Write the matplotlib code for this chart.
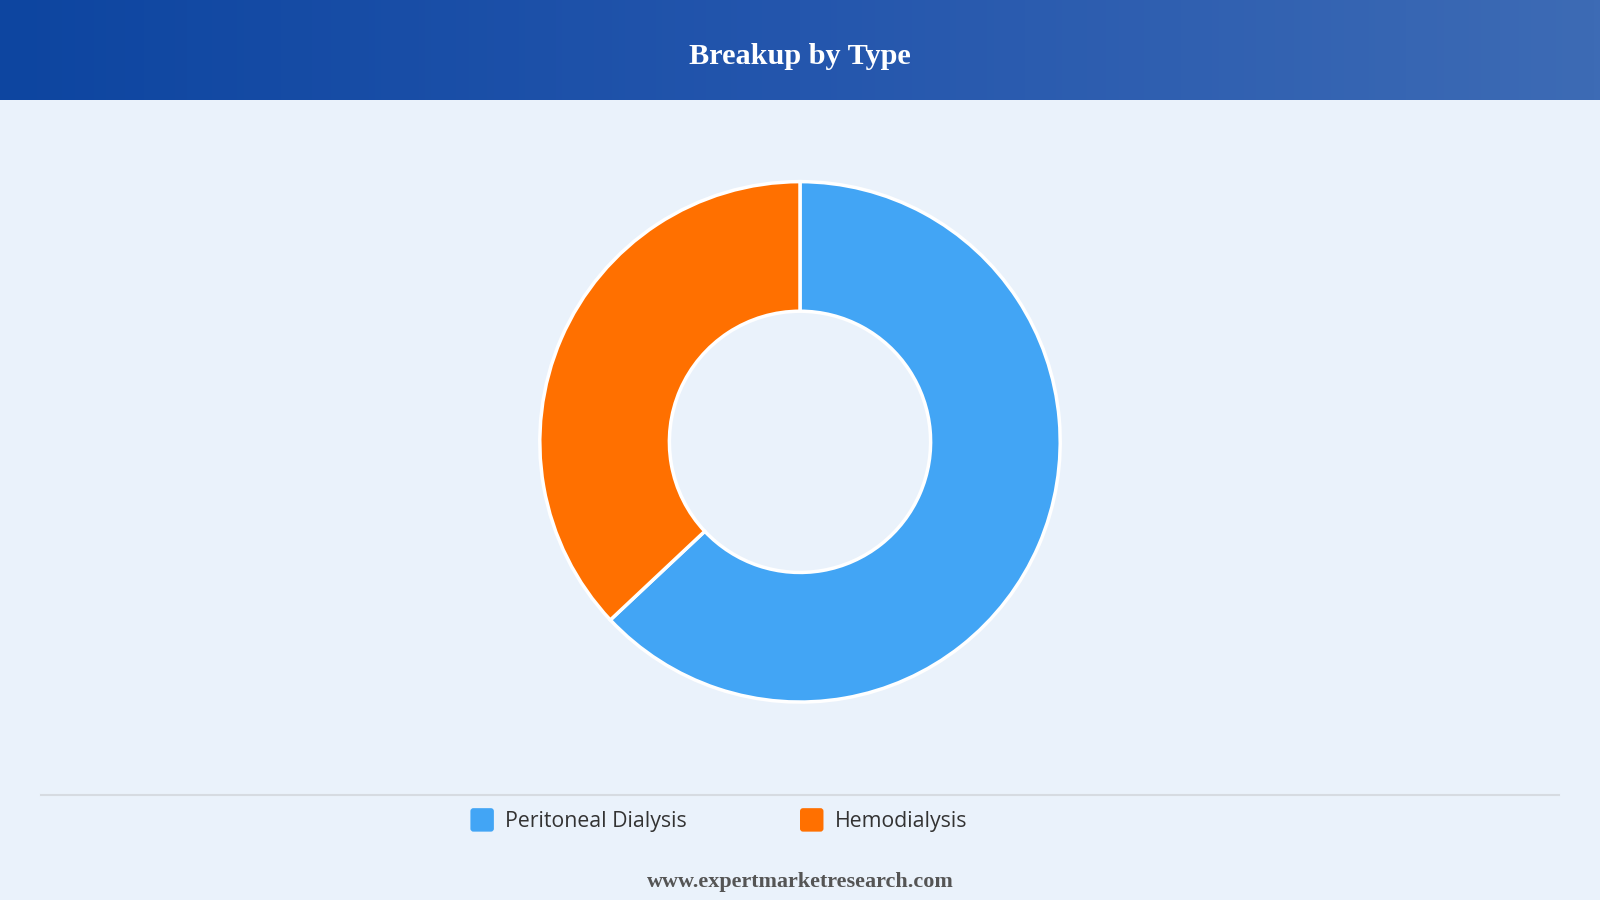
import numpy as np
import matplotlib
matplotlib.use("Agg")
import matplotlib.pyplot as plt
from matplotlib.patches import FancyBboxPatch
from matplotlib.colors import LinearSegmentedColormap

title = "Breakup by Type"
categories = ["Peritoneal Dialysis", "Hemodialysis"]
values = [63, 37]
colors = ["#42A5F5", "#FF7000"]
footer = "www.expertmarketresearch.com"

W, H = 1600, 900
s = W / 1568.0

fig = plt.figure(figsize=(16, 9), dpi=100)
fig.patch.set_facecolor("#EAF2FB")
ax = fig.add_axes([0, 0, 1, 1])

# header gradient
cmap = LinearSegmentedColormap.from_list("hdr", ["#0D45A0", "#2456AD", "#3D6BB5"])
grad = np.linspace(0, 1, 512).reshape(1, -1)
ax.imshow(grad, cmap=cmap, aspect="auto", extent=(0, W, 98 * s, 0), zorder=1)
ax.text(W / 2, 55 * s, title, ha="center", va="center", color="white",
        fontsize=21.8, fontweight="bold", family=["Liberation Serif", "DejaVu Serif"], zorder=3)

# donut (y axis is inverted, so angles are mirrored)
cx, cy = 784 * s, 433 * s
R = 255 * s
r_in = 128 * s
ax.pie(values, colors=colors, startangle=-90, counterclock=True,
       center=(cx, cy), radius=R, frame=True,
       wedgeprops=dict(width=R - r_in, edgecolor="white", linewidth=2.5))
ax.set_xlim(0, W)
ax.set_ylim(H, 0)
ax.set_aspect("equal")
ax.axis("off")

# separator line
ax.plot([40 * s, 1528 * s], [779 * s, 779 * s], color="#D6DBE1", lw=1.5, zorder=2)

# legend
leg_x = [461 * s, 784 * s]
for x0, lab, col in zip(leg_x, categories, colors):
    box = FancyBboxPatch((x0, 792 * s), 23 * s, 23 * s,
                         boxstyle="round,pad=0,rounding_size=3", fc=col, ec="none", zorder=3)
    ax.add_patch(box)
    ax.text(x0 + 34 * s, 805.5 * s, lab, ha="left", va="center", fontsize=15.3,
            color="#333333", family=["Open Sans", "DejaVu Sans"], zorder=3)

ax.text(W / 2, 864 * s, footer, ha="center", va="center", fontsize=15.9,
        fontweight="bold", color="#555555", family=["Liberation Serif", "DejaVu Serif"], zorder=3)

fig.savefig("out.png", dpi=100, facecolor=fig.get_facecolor())
